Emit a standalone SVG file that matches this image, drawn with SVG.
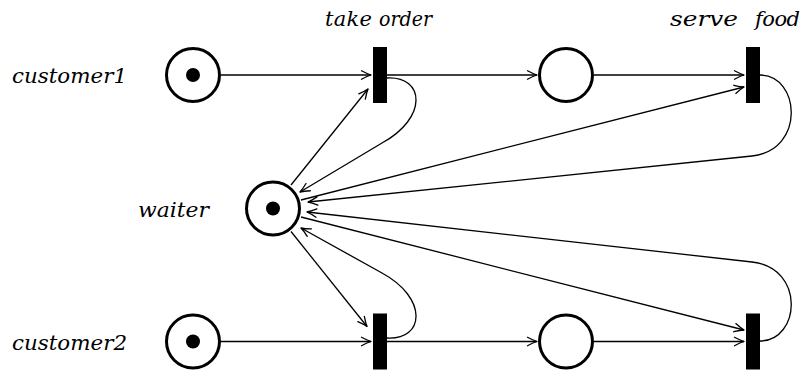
<svg xmlns="http://www.w3.org/2000/svg" width="806" height="373" viewBox="0 0 806 373">
  <style>
    .place { fill: #fff; stroke: #000; stroke-width: 3; }
    .token { fill: #000; }
    .trans { fill: #000; }
    .arc { fill: none; stroke: #000; stroke-width: 1.3; marker-end: url(#arr); }
    .lbl { font-family: "DejaVu Serif", "Liberation Serif", serif; font-style: italic; font-size: 21px; fill: #000; }
  </style>
  <defs>
    <marker id="arr" markerUnits="userSpaceOnUse" markerWidth="14" markerHeight="12" viewBox="-12 -6 14 12" refX="0" refY="0" orient="auto">
      <path d="M-9.5,-4.2 Q-3.5,-1 0,0 Q-3.5,1 -9.5,4.2" fill="none" stroke="#000" stroke-width="1.3" stroke-linecap="round" stroke-linejoin="round"/>
    </marker>
  </defs>
  <rect width="806" height="373" fill="#fff"/>

  <!-- connectors -->
  <g id="arcs">
    <!-- row 1 -->
    <path class="arc" d="M221,75 L371,75"/>
    <path class="arc" d="M387,75 L537,75"/>
    <path class="arc" d="M594,75 L744,75"/>
    <!-- row 2 -->
    <path class="arc" d="M221,341.5 L371,341.5"/>
    <path class="arc" d="M387,341.5 L537,341.5"/>
    <path class="arc" d="M594,341.5 L744,341.5"/>
    <!-- waiter to transitions -->
    <path class="arc" d="M291,185 L368,89"/>
    <path class="arc" d="M301,200 L744,87"/>
    <path class="arc" d="M301,217 L744,330"/>
    <path class="arc" d="M291,231.5 L367,326.5"/>
    <!-- transitions back to waiter -->
    <path class="arc" d="M387,78 C425,76 428,118 382,143 L300,192"/>
    <path class="arc" d="M760,75 C800,75 806,150 752,156 L308,202"/>
    <path class="arc" d="M760,341 C800,341 806,268 752,262 L307,212"/>
    <path class="arc" d="M387,338 C425,340 428,298 382,273 L301,228"/>
  </g>

  <!-- places -->
  <g id="customer1">
    <circle class="place" cx="193" cy="75" r="26.5"/>
    <circle class="token" cx="193" cy="75" r="7"/>
    <text class="lbl" x="12" y="83" textLength="115" lengthAdjust="spacingAndGlyphs">customer1</text>
  </g>
  <g id="customer2">
    <circle class="place" cx="193" cy="341.5" r="26.5"/>
    <circle class="token" cx="193" cy="341.5" r="7"/>
    <text class="lbl" x="12" y="349.5" textLength="115" lengthAdjust="spacingAndGlyphs">customer2</text>
  </g>
  <g id="waiter">
    <circle class="place" cx="273" cy="208.5" r="26.5"/>
    <circle class="token" cx="273" cy="208.5" r="7"/>
    <text class="lbl" x="138" y="216.5" textLength="71" lengthAdjust="spacingAndGlyphs">waiter</text>
  </g>
  <g id="ordered1">
    <circle class="place" cx="566" cy="75" r="26.5"/>
  </g>
  <g id="ordered2">
    <circle class="place" cx="566" cy="341.5" r="26.5"/>
  </g>

  <!-- transitions -->
  <g id="take-order-1">
    <rect class="trans" x="373" y="47" width="14" height="56"/>
    <text class="lbl" x="325" y="26" textLength="47" lengthAdjust="spacing">take</text>
    <text class="lbl" x="379" y="26" textLength="53" lengthAdjust="spacingAndGlyphs">order</text>
  </g>
  <g id="take-order-2">
    <rect class="trans" x="373" y="313.5" width="14" height="56"/>
  </g>
  <g id="serve-food-1">
    <rect class="trans" x="746" y="47" width="14" height="56"/>
    <text class="lbl" x="670" y="26" textLength="68" lengthAdjust="spacingAndGlyphs">serve</text>
    <text class="lbl" x="755" y="26" textLength="45" lengthAdjust="spacing">food</text>
  </g>
  <g id="serve-food-2">
    <rect class="trans" x="746" y="313.5" width="14" height="56"/>
  </g>
</svg>
